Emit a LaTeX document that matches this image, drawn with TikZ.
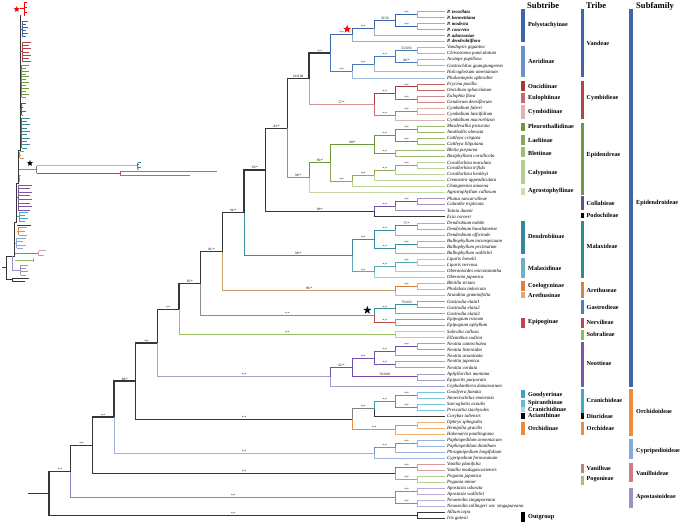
\documentclass[tikz,border=0pt]{standalone}
\usepackage{fontspec}
\setmainfont{Liberation Serif}
\usetikzlibrary{calc,shapes.geometric}
\definecolor{bkc}{HTML}{363636}
\definecolor{pin}{HTML}{3C64A8}\definecolor{pti}{HTML}{98AECE}
\definecolor{ain}{HTML}{4A78B8}\definecolor{ati}{HTML}{A0B8D8}
\definecolor{cst}{HTML}{D89090}\definecolor{onc}{HTML}{A83A3A}\definecolor{oti}{HTML}{C06868}
\definecolor{eul}{HTML}{C05A5A}\definecolor{eti}{HTML}{D08C8C}
\definecolor{cyi}{HTML}{C87070}\definecolor{cyt}{HTML}{DEB0B0}
\definecolor{est}{HTML}{8AA05A}\definecolor{ein}{HTML}{6A9A3A}\definecolor{eti2}{HTML}{9CBA70}
\definecolor{cal}{HTML}{8CAA5C}\definecolor{calt}{HTML}{BCD29C}\definecolor{agr}{HTML}{C4D8A6}
\definecolor{pur}{HTML}{7050A0}\definecolor{purt}{HTML}{A890C8}
\definecolor{tea}{HTML}{3A8C9C}\definecolor{teat}{HTML}{8CBCC8}\definecolor{mlx}{HTML}{5AA8B8}\definecolor{mlxt}{HTML}{A0CCD8}
\definecolor{tan}{HTML}{C8A070}\definecolor{ora}{HTML}{D8803A}\definecolor{orat}{HTML}{E8B078}
\definecolor{gry}{HTML}{8C8C8C}\definecolor{gas}{HTML}{3A8A9C}\definecolor{gast}{HTML}{7AB0C0}
\definecolor{epg}{HTML}{C04848}\definecolor{epgt}{HTML}{D88080}
\definecolor{sob}{HTML}{9CC060}\definecolor{sobt}{HTML}{B8D490}
\definecolor{neo}{HTML}{7050A8}\definecolor{neot}{HTML}{A89CC8}
\definecolor{cra}{HTML}{3AA0C0}\definecolor{crat}{HTML}{80C4DC}
\definecolor{orc}{HTML}{F08C3C}\definecolor{orct}{HTML}{F4B070}
\definecolor{cyp}{HTML}{6F90C8}\definecolor{cypt}{HTML}{9CB4DC}
\definecolor{van}{HTML}{C8646C}\definecolor{vant}{HTML}{DC9AA0}
\definecolor{pog}{HTML}{90BB60}\definecolor{pogt}{HTML}{B0D090}
\definecolor{apo}{HTML}{9080C0}\definecolor{apot}{HTML}{B8ACD8}
% panel colours
\definecolor{sPoly}{HTML}{3D66A8}\definecolor{sAeri}{HTML}{6A92C8}\definecolor{sOnc}{HTML}{A83838}
\definecolor{sEul}{HTML}{C86870}\definecolor{sCym}{HTML}{E0B4B6}\definecolor{sPle}{HTML}{6E963C}
\definecolor{sLae}{HTML}{88AA58}\definecolor{sBle}{HTML}{A0BC78}\definecolor{sCal}{HTML}{B6CC94}
\definecolor{sAgr}{HTML}{CADCB0}\definecolor{sDen}{HTML}{34889A}\definecolor{sMal}{HTML}{70B0C2}
\definecolor{sCoe}{HTML}{D9803A}\definecolor{sAre}{HTML}{E8A468}\definecolor{sEpi}{HTML}{C0464C}
\definecolor{sGoo}{HTML}{3EA4C4}\definecolor{sSpi}{HTML}{68B8D2}\definecolor{sCra}{HTML}{A8D8E4}
\definecolor{sOrc}{HTML}{EF8A3A}
\definecolor{tVan}{HTML}{3D66A8}\definecolor{tCym}{HTML}{B04448}\definecolor{tEpi}{HTML}{6E9A40}
\definecolor{tCol}{HTML}{6A4A9C}\definecolor{tMal}{HTML}{34889A}\definecolor{tAre}{HTML}{D8843C}
\definecolor{tGas}{HTML}{4E7EC2}\definecolor{tNer}{HTML}{C0464C}\definecolor{tSob}{HTML}{8CBC58}
\definecolor{tNeo}{HTML}{7A58A8}\definecolor{tCra}{HTML}{44A8C6}\definecolor{tOrc}{HTML}{EF8A3A}
\definecolor{tVnl}{HTML}{D07880}\definecolor{tPog}{HTML}{9CC670}
\definecolor{fEpi}{HTML}{3D66A8}\definecolor{fOrc}{HTML}{EF8C3C}\definecolor{fCyp}{HTML}{88A8D8}
\definecolor{fVan}{HTML}{D07A84}\definecolor{fApo}{HTML}{A090C8}
\tikzset{
  bb/.style={draw=bkc,line width=1.3pt},
  ib/.style={line width=1pt},
  tb/.style={line width=0.8pt},
  tiplab/.style={anchor=west,inner sep=0pt,font=\fontsize{4.8}{5}\selectfont\itshape},
  bs/.style={anchor=south,inner sep=0.7pt,font=\fontsize{3.4}{3.5}\selectfont},
  panel/.style={anchor=west,inner sep=0pt,font=\fontsize{6.2}{7}\selectfont\bfseries},
  head/.style={anchor=west,inner sep=0pt,font=\fontsize{8.6}{9}\selectfont\bfseries},
  pbar/.style={line width=3.3pt},
  starshape/.style={star,star points=5,star point ratio=2.4,inner sep=0pt,minimum size=#1},
}
\newcommand\E[3]{\draw[#1] (#2) |- (#3);}
\newcommand\BS[3]{\node[bs] (b#1) at ($(#2 |- #1)!0.5!(#1)$) {#3};}
\newcommand\comb[7]{%
  \draw[draw=#1,line width=0.6pt] (#2,{(#4+#5)/2}) -- (#3,{(#4+#5)/2}) (#3,#4) -- (#3,#5);
  \pgfmathtruncatemacro\nn{#7-1}%
  \foreach \k in {0,...,\nn} {\draw[draw=#1,line width=0.45pt] (#3,{#4+\k*(#5-#4)/\nn}) -- ({#6-mod(\k,2)*2.5},{#4+\k*(#5-#4)/\nn});}
}
\begin{document}
\begin{tikzpicture}[x=1pt,y=-1pt]
\useasboundingbox (0,0) rectangle (685,524);
% ---------- tips ----------
\foreach \i in {1,...,85} \coordinate (t\i) at (445,{11.5+(\i-1)*6.04});
\foreach \nm [count=\i] in {\textbf{P. tessellata},\textbf{P. bennettiana},\textbf{P. modesta},\textbf{P. concreta},\textbf{P. adansoniae},\textbf{P. dendrobiiflora},
 Vandopsis gigantea,Cleisostoma paniculatum,Acampe papillosa,Gastrochilus guangtungensis,Holcoglossum amesianum,Phalaenopsis aphrodite,
 Erycina pusilla,Oncidium sphacelatum,Eulophia flava,Geodorum densiflorum,Cymbidium faberi,Cymbidium lancifolium,Cymbidium macrorhizon,
 Masdevallia picturata,Anathallis obovata,Cattleya crispata,Cattleya liliputana,Bletia purpurea,Basiphyllaea corallicola,
 Corallorhiza maculata,Corallorhiza trifida,Corallorhiza bentleyi,Cremastra appendiculata,Changnienia amoena,Agrostophyllum callosum,
 Phaius tancarvilleae,Calanthe triplicata,Tainia dunnii,Eria corneri,
 Dendrobium nobile,Dendrobium huoshanense,Dendrobium officinale,Bulbophyllum inconspicuum,Bulbophyllum pectinatum,Bulbophyllum wallichii,
 Liparis loeselii,Liparis nervosa,Oberonioides microtatantha,Oberonia japonica,
 Bletilla striata,Pholidota imbricata,Arundina graminifolia,Gastrodia elata1,Gastrodia elata2,Gastrodia elata3,
 Epipogium roseum,Epipogium aphyllum,Sobralia callosa,Elleanthus sodiroi,
 Neottia camtschatea,Neottia listeroides,Neottia acuminata,Neottia japonica,Neottia cordata,Aphyllorchis montana,Epipactis purpurata,Cephalanthera damasonium,
 Goodyera fumata,Anoectochilus emeiensis,Sarcoglottis acaulis,Prescottia stachyodes,Corybas taliensis,Ophrys sphegodes,Hemipilia gracilis,Habenaria pantlingiana,
 Paphiopedilum armeniacum,Paphiopedilum dianthum,Phragmipedium longifolium,Cypripedium formosanum,
 Vanilla planifolia,Vanilla madagascariensis,Pogonia japonica,Pogonia minor,
 Apostasia odorata,Apostasia wallichii,Neuwiedia singapureana,Neuwiedia zollingeri var. singapureana,Allium cepa,Iris gatesii}
 \node[tiplab] (L\i) at (447,{11.5+(\i-1)*6.04}) {\nm};
% ---------- internal nodes ----------
\coordinate (p12) at (417.39,14.52);\coordinate (p34) at (417.39,26.60);
\coordinate (p14) at (395.72,20.56);\coordinate (p15) at (374.05,28.11);\coordinate (p16) at (352.38,34.91);
\coordinate (a78) at (417.39,50.76);\coordinate (a910) at (417.39,62.84);\coordinate (a710) at (395.72,56.80);
\coordinate (a711) at (374.05,64.35);\coordinate (a712) at (352.38,71.15);\coordinate (v) at (330.71,53.03);
\coordinate (c1314) at (417.39,87.00);\coordinate (c1516) at (417.39,99.08);\coordinate (c1316) at (395.72,93.04);
\coordinate (c1718) at (417.39,111.16);\coordinate (c1719) at (395.72,115.69);\coordinate (cym) at (374.05,104.37);
\coordinate (A) at (309.04,78.70);
\coordinate (e2021) at (417.39,129.28);\coordinate (e2223) at (417.39,141.36);\coordinate (e2023) at (395.72,135.32);
\coordinate (e2425) at (395.72,153.44);\coordinate (e2025) at (374.05,144.38);
\coordinate (e2627) at (417.39,165.52);\coordinate (e2628) at (395.72,170.05);\coordinate (e2629) at (374.05,175.34);
\coordinate (e2630) at (352.38,181.00);\coordinate (e2030) at (330.71,162.69);\coordinate (epi) at (309.04,177.70);
\coordinate (B) at (287.37,128.20);
\coordinate (k3233) at (417.39,201.76);\coordinate (k3234) at (395.72,206.29);\coordinate (k3235) at (374.05,211.58);
\coordinate (C) at (265.70,169.89);
\coordinate (d3637) at (417.39,225.92);\coordinate (d3638) at (395.72,230.45);\coordinate (d3940) at (417.39,244.04);
\coordinate (d3941) at (395.72,248.57);\coordinate (dend) at (374.05,239.51);
\coordinate (m4243) at (417.39,262.16);\coordinate (m4244) at (395.72,266.69);\coordinate (m4245) at (374.05,271.98);
\coordinate (mal) at (352.38,255.74);\coordinate (D) at (244.03,212.82);
\coordinate (r4647) at (417.39,286.32);\coordinate (r4648) at (395.72,290.85);\coordinate (E) at (222.36,251.83);
\coordinate (g4950) at (417.39,304.44);\coordinate (g4951) at (395.72,308.97);\coordinate (n5253) at (395.72,322.56);
\coordinate (gn) at (374.05,315.77);\coordinate (F) at (200.69,283.80);
\coordinate (s5455) at (395.72,334.64);\coordinate (G) at (179.02,309.22);
\coordinate (o5657) at (417.39,346.72);\coordinate (o5658) at (395.72,351.25);\coordinate (o5960) at (395.72,364.84);
\coordinate (o5660) at (374.05,358.05);\coordinate (o6162) at (417.39,376.92);\coordinate (o5662) at (352.38,367.48);
\coordinate (o5663) at (330.71,376.73);\coordinate (H) at (157.35,342.98);
\coordinate (q6465) at (417.39,395.04);\coordinate (q6667) at (417.39,407.12);\coordinate (q6467) at (395.72,401.08);
\coordinate (q6468) at (374.05,408.63);\coordinate (q6970) at (417.39,425.24);\coordinate (q6971) at (395.72,429.77);
\coordinate (orc) at (352.38,419.20);\coordinate (I) at (135.68,381.09);
\coordinate (y7273) at (417.39,443.36);\coordinate (y7274) at (395.72,447.89);\coordinate (y7275) at (374.05,453.18);
\coordinate (J) at (114.01,417.13);
\coordinate (w7677) at (417.39,467.52);\coordinate (w7879) at (417.39,479.60);\coordinate (w7679) at (395.72,473.56);
\coordinate (K) at (92.34,445.35);
\coordinate (z8081) at (417.39,491.68);\coordinate (z8283) at (417.39,503.76);\coordinate (z8083) at (395.72,497.72);
\coordinate (L) at (70.67,471.53);
\coordinate (og) at (417.39,515.84);
\coordinate (root) at (49.00,493.69);\coordinate (rstub) at (28,493.69);
% ---------- edges ----------
\draw[bb] (rstub) -- (root);
\E{bb}{root}{L}\E{bb}{root}{og}\E{draw=bkc,tb}{og}{t84}\E{draw=bkc,tb}{og}{t85}
\E{bb}{L}{K}\E{draw=apo,ib}{L}{z8083}
\E{draw=apo,ib}{z8083}{z8081}\E{draw=apo,ib}{z8083}{z8283}
\foreach \a/\b in {z8081/t80,z8081/t81,z8283/t82,z8283/t83} {\E{draw=apot,tb}{\a}{\b}}
\E{bb}{K}{J}\E{bb}{K}{w7679}
\E{draw=van,ib}{w7679}{w7677}\E{draw=pog,ib}{w7679}{w7879}
\E{draw=vant,tb}{w7677}{t76}\E{draw=vant,tb}{w7677}{t77}\E{draw=pogt,tb}{w7879}{t78}\E{draw=pogt,tb}{w7879}{t79}
\E{bb}{J}{I}\E{draw=cypt,ib}{J}{y7275}
\E{draw=cyp,ib}{y7275}{y7274}\E{draw=cypt,tb}{y7275}{t75}\E{draw=cyp,ib}{y7274}{y7273}\E{draw=cypt,tb}{y7274}{t74}
\E{draw=cypt,tb}{y7273}{t72}\E{draw=cypt,tb}{y7273}{t73}
\E{bb}{I}{H}\E{bb}{I}{orc}
\E{draw=gray,ib}{orc}{q6468}\E{draw=orc,ib}{orc}{q6971}
\E{draw=cra,ib}{q6468}{q6467}\E{draw=bkc,ib}{q6468}{t68}
\E{draw=cra,ib}{q6467}{q6465}\E{draw=cra,ib}{q6467}{q6667}
\foreach \a/\b in {q6465/t64,q6465/t65,q6667/t66,q6667/t67} {\E{draw=crat,tb}{\a}{\b}}
\E{draw=orc,ib}{q6971}{q6970}\E{draw=orct,tb}{q6971}{t71}\E{draw=orct,tb}{q6970}{t69}\E{draw=orct,tb}{q6970}{t70}
\E{bb}{H}{G}\E{draw=neot,ib}{H}{o5663}
\E{draw=neo,ib}{o5663}{o5662}\E{draw=neot,tb}{o5663}{t63}
\E{draw=neo,ib}{o5662}{o5660}\E{draw=neo,ib}{o5662}{o6162}
\E{draw=neo,ib}{o5660}{o5658}\E{draw=neo,ib}{o5660}{o5960}\E{draw=neo,ib}{o5658}{o5657}
\foreach \a/\b in {o5657/t56,o5657/t57,o5658/t58,o5960/t59,o5960/t60,o6162/t61,o6162/t62} {\E{draw=neot,tb}{\a}{\b}}
\E{bb}{G}{F}\E{draw=sob,ib}{G}{s5455}\E{draw=sobt,tb}{s5455}{t54}\E{draw=sobt,tb}{s5455}{t55}
\E{bb}{F}{E}\E{draw=gry,ib}{F}{gn}
\E{draw=gas,ib}{gn}{g4951}\E{draw=epg,ib}{gn}{n5253}
\E{draw=gas,ib}{g4951}{g4950}\E{draw=gast,tb}{g4951}{t51}\E{draw=gast,tb}{g4950}{t49}\E{draw=gast,tb}{g4950}{t50}
\E{draw=epgt,tb}{n5253}{t52}\E{draw=epgt,tb}{n5253}{t53}
\E{bb}{E}{D}\E{draw=tan,ib}{E}{r4648}
\E{draw=ora,ib}{r4648}{r4647}\E{draw=orat,tb}{r4648}{t48}\E{draw=orat,tb}{r4647}{t46}\E{draw=orat,tb}{r4647}{t47}
\E{bb}{D}{C}\E{draw=tea,ib}{D}{mal}
\E{draw=tea,ib}{mal}{dend}\E{draw=mlx,ib}{mal}{m4245}
\E{draw=tea,ib}{dend}{d3638}\E{draw=tea,ib}{dend}{d3941}\E{draw=tea,ib}{d3638}{d3637}\E{draw=tea,ib}{d3941}{d3940}
\foreach \a/\b in {d3637/t36,d3637/t37,d3638/t38,d3940/t39,d3940/t40,d3941/t41} {\E{draw=teat,tb}{\a}{\b}}
\E{draw=mlx,ib}{m4245}{m4244}\E{draw=mlx,ib}{m4244}{m4243}
\foreach \a/\b in {m4243/t42,m4243/t43,m4244/t44,m4245/t45} {\E{draw=mlxt,tb}{\a}{\b}}
\E{bb}{C}{B}\E{bb}{C}{k3235}
\E{draw=pur,ib}{k3235}{k3234}\E{draw=bkc,ib}{k3235}{t35}\E{draw=pur,ib}{k3234}{k3233}
\E{draw=purt,tb}{k3234}{t34}\E{draw=purt,tb}{k3233}{t32}\E{draw=purt,tb}{k3233}{t33}
\E{bb}{B}{A}\E{draw=est,ib}{B}{epi}
\E{draw=ein,ib}{epi}{e2030}\E{draw=agr,tb}{epi}{t31}
\E{draw=ein,ib}{e2030}{e2025}\E{draw=cal,ib}{e2030}{e2630}
\E{draw=ein,ib}{e2025}{e2023}\E{draw=ein,ib}{e2025}{e2425}\E{draw=ein,ib}{e2023}{e2021}\E{draw=ein,ib}{e2023}{e2223}
\foreach \a/\b in {e2021/t20,e2021/t21,e2223/t22,e2223/t23,e2425/t24,e2425/t25} {\E{draw=eti2,tb}{\a}{\b}}
\E{draw=cal,ib}{e2630}{e2629}\E{draw=cal,ib}{e2629}{e2628}\E{draw=cal,ib}{e2628}{e2627}
\foreach \a/\b in {e2627/t26,e2627/t27,e2628/t28,e2629/t29,e2630/t30} {\E{draw=calt,tb}{\a}{\b}}
\E{bb}{A}{v}\E{draw=cst,ib}{A}{cym}
\E{draw=onc,ib}{cym}{c1316}\E{draw=cyi,ib}{cym}{c1719}
\E{draw=onc,ib}{c1316}{c1314}\E{draw=eul,ib}{c1316}{c1516}
\E{draw=oti,tb}{c1314}{t13}\E{draw=oti,tb}{c1314}{t14}\E{draw=eti,tb}{c1516}{t15}\E{draw=eti,tb}{c1516}{t16}
\E{draw=cyi,ib}{c1719}{c1718}\E{draw=cyt,tb}{c1719}{t19}\E{draw=cyt,tb}{c1718}{t17}\E{draw=cyt,tb}{c1718}{t18}
\E{draw=pin,ib}{v}{p16}\E{draw=ain,ib}{v}{a712}
\E{draw=pin,ib}{p16}{p15}\E{draw=pin,ib}{p15}{p14}\E{draw=pin,ib}{p14}{p12}\E{draw=pin,ib}{p14}{p34}
\foreach \a/\b in {p12/t1,p12/t2,p34/t3,p34/t4,p15/t5,p16/t6} {\E{draw=pti,tb}{\a}{\b}}
\E{draw=ain,ib}{a712}{a711}\E{draw=ain,ib}{a711}{a710}\E{draw=ain,ib}{a710}{a78}\E{draw=ain,ib}{a710}{a910}
\foreach \a/\b in {a78/t7,a78/t8,a910/t9,a910/t10,a711/t11,a712/t12} {\E{draw=ati,tb}{\a}{\b}}
% ---------- support labels ----------
\BS{p12}{p14}{*/*}\BS{p34}{p14}{*/*}\BS{p14}{p15}{53/56}\BS{p15}{p16}{*/*}\BS{p16}{v}{*/*}
\BS{a78}{a710}{55/0.93}\BS{a910}{a710}{86/*}\BS{a710}{a711}{*/*}\BS{a711}{a712}{*/*}\BS{a712}{v}{*/*}
\BS{v}{A}{*/*}\BS{A}{B}{61/0.98}
\BS{c1314}{c1316}{*/*}\BS{c1516}{c1316}{*/*}\BS{c1316}{cym}{*/*}\BS{c1718}{c1719}{*/*}\BS{c1719}{cym}{*/*}\BS{cym}{A}{57/*}
\BS{e2021}{e2023}{*/*}\BS{e2223}{e2023}{*/*}\BS{e2023}{e2025}{*/*}\BS{e2425}{e2025}{*/*}\BS{e2025}{e2030}{90/*}
\BS{e2627}{e2628}{*/*}\BS{e2628}{e2629}{*/*}\BS{e2629}{e2630}{*/*}\BS{e2630}{e2030}{*/*}\BS{e2030}{epi}{96/*}
\BS{epi}{B}{98/*}\BS{B}{C}{83/*}\BS{C}{D}{93/*}
\BS{k3233}{k3234}{*/*}\BS{k3234}{k3235}{*/*}\BS{k3235}{C}{99/*}
\BS{d3637}{d3638}{77/*}\BS{d3638}{dend}{*/*}\BS{d3940}{d3941}{*/*}\BS{d3941}{dend}{*/*}\BS{dend}{mal}{*/*}
\BS{m4243}{m4244}{*/*}\BS{m4244}{m4245}{*/*}\BS{m4245}{mal}{*/*}\BS{mal}{D}{98/*}
\BS{D}{E}{94/*}\BS{r4647}{r4648}{*/*}\BS{r4648}{E}{89/*}\BS{E}{F}{81/*}
\BS{g4950}{g4951}{76/0.92}\BS{g4951}{gn}{*/*}\BS{n5253}{gn}{*/*}\BS{gn}{F}{*/*}
\BS{F}{G}{85/*}\BS{s5455}{G}{*/*}\BS{G}{H}{*/*}
\BS{o5657}{o5658}{*/*}\BS{o5658}{o5660}{*/*}\BS{o5960}{o5660}{*/*}\BS{o5660}{o5662}{*/*}\BS{o6162}{o5662}{78/0.98}
\BS{o5662}{o5663}{82/*}\BS{o5663}{H}{*/*}\BS{H}{I}{*/*}
\BS{q6465}{q6467}{*/*}\BS{q6667}{q6467}{*/*}\BS{q6467}{q6468}{*/*}\BS{q6468}{orc}{*/*}\BS{q6971}{orc}{*/*}
\BS{orc}{I}{*/*}\BS{I}{J}{86/*}
\BS{y7273}{y7274}{*/*}\BS{y7274}{y7275}{*/*}\BS{y7275}{J}{*/*}\BS{J}{K}{*/*}
\BS{w7677}{w7679}{*/*}\BS{w7879}{w7679}{*/*}\BS{w7679}{K}{*/*}\BS{K}{L}{*/*}
\BS{z8081}{z8083}{*/*}\BS{z8283}{z8083}{*/*}\BS{z8083}{L}{*/*}\BS{L}{root}{*/*}\BS{og}{root}{*/*}
% stars on tree
\node[starshape=8.5pt,fill=red] (starR) at (347.2,29.2) {};
\node[starshape=8.5pt,fill=black] (starK) at (367.3,310.2) {};
% ---------- right panel ----------
\node[head] (h1) at (527,6) {Subtribe};
\node[head] (h2) at (586,6) {Tribe};
\node[head] (h3) at (636,6) {Subfamily};
\foreach \c/\ya/\yb/\yl/\tx [count=\j] in {
 sPoly/9.3/41.7/25/Polystachyinae, sAeri/45.7/77.3/61/Aeridinae, sOnc/80.7/90.7/86.5/Oncidiinae,
 sEul/93/103/98.3/Eulophiinae, sCym/105.5/119/112.3/Cymbidiinae, sPle/123/131/126.7/Pleurothallidinae,
 sLae/135/145/140/Laeliinae, sBle/147/157/153/Bletiinae, sCal/160/184.3/173.3/Calypsinae,
 sAgr/188/194.5/191.5/Agrostophyllinae, sDen/220.7/254/236.7/Dendrobiinae, sMal/257.7/277.7/268.3/Malaxidinae,
 sCoe/281/290.7/285.7/Coelogyninae, sAre/292/297.7/295/Arethusinae, sEpi/318/328/322.3/Epipoginae,
 sGoo/390/398/394.7/Goodyerinae, sSpi/400.3/406.5/402.7/Spiranthinae, sCra/407/412/409.2/Cranichidinae,
 black/413/418.5/415.6/Acianthinae, sOrc/421.7/435/428.3/Orchidinae, black/511.7/521.7/516.7/Outgroup}
 {\draw[pbar,draw=\c] (523,\ya) -- (523,\yb); \node[panel] (st\j) at (528,\yl) {\tx};}
\foreach \c/\ya/\yb/\yl/\tx [count=\j] in {
 tVan/9.3/77.3/43/Vandeae, tCym/80.7/119/98.3/Cymbidieae, tEpi/123/194.5/155/Epidendreae,
 tCol/196/210/203/Collabieae, black/212.5/218/215.8/Podochileae, tMal/220.7/278/246.7/Malaxideae,
 tAre/281.7/298.3/290/Arethuseae, tGas/300/314.3/307/Gastrodieae, tNer/318/328/322.3/Nervilieae,
 tSob/330/340/334.7/Sobralieae, tNeo/342/387/363/Neottieae, tCra/389/412.7/400.7/Cranichideae,
 black/413/419/416.6/Diurideae, tOrc/421.7/435/428.5/Orchideae, tVnl/464/473/468/Vanilleae, tPog/475.7/485/479/Pogonieae}
 {\draw[pbar,draw=\c] (582.5,\ya) -- (582.5,\yb); \node[panel] (tr\j) at (586.5,\yl) {\tx};}
\foreach \c/\ya/\yb/\yl/\tx [count=\j] in {
 fEpi/9.3/387/203/Epidendroideae, fOrc/389/436/411.7/Orchidoideae, fCyp/438.7/459.3/451/Cypripedioideae,
 fVan/463/481.7/473/Vanilloideae, fApo/487.7/508/497/Apostasioideae}
 {\draw[pbar,draw=\c] (631,\ya) -- (631,\yb); \node[panel] (sf\j) at (636,\yl) {\tx};}
% ---------- left inset (phylogram) ----------
\draw[draw=bkc,line width=0.9pt] (20,15) -- (20,150) -- (18.5,150) -- (18.5,183) -- (16.5,183) -- (16.5,222) -- (14.5,222) -- (14.5,256);
\draw[draw=bkc,line width=0.8pt] (1.7,267.7) -- (6,267.7) (6,256) -- (6,279.5) (6,256) -- (14.5,256) (6,279.5) -- (12.7,279.5);
\comb{red}{20}{24}{2}{15}{27}{6}
\comb{pin}{20}{22}{21.5}{36.5}{28}{6}
\comb{tCym}{20}{22}{42}{61.5}{31}{7}
\comb{tEpi}{20}{21.5}{65}{97}{28.5}{12}
\comb{tCol}{20}{21.5}{103}{115}{25.5}{4}
\comb{tMal}{20}{21.5}{118}{148}{29.5}{10}
\comb{tAre}{18.5}{19.5}{151.5}{158.3}{23.5}{3}
\draw[draw=gry,line width=0.9pt] (18.5,169) -- (36.7,169);
\draw[draw=gray,line width=0.6pt] (36.7,165.7) -- (36.7,173.3);
\draw[draw=ati,line width=0.8pt] (36.7,165.7) -- (136.7,165.7);
\comb{gas}{136.7}{137.5}{162.5}{169}{140.5}{4}
\draw[draw=epg,line width=0.8pt] (36.7,173.3) -- (120,173.3) (120,171) -- (120,175);
\draw[draw=van,line width=0.8pt] (120,171) -- (216.7,171) (120,175) -- (190,175);
\node[starshape=6.5pt,fill=black] (istarK) at (30,163.3) {};
\node[starshape=6.5pt,fill=red] (istarR) at (16.7,9.3) {};
\comb{tSob}{18.5}{19}{175.5}{181.5}{21}{2}
\comb{tNeo}{16.5}{18}{185}{210}{32}{8}
\comb{tCra}{16.5}{19}{212}{221}{27.5}{4}
\draw[draw=bkc,line width=0.8pt] (16.5,225) -- (31,225);
\comb{tOrc}{16.5}{18.5}{227}{235}{27}{3}
\comb{fCyp}{14.5}{16.5}{238}{248.3}{25.5}{4}
\draw[draw=van,line width=0.7pt] (14.5,253) -- (38,253);
\comb{vant}{38}{38.5}{250.5}{255.5}{46}{2}
\draw[draw=pog,line width=0.7pt] (14.5,260) -- (33,260) (33,258) -- (33,262);
\draw[draw=fApo,line width=0.7pt] (12.7,256) -- (12.7,270) -- (20,270);
\comb{fApo}{20}{20.5}{265}{275}{28}{4}
\draw[draw=bkc,line width=0.8pt] (12.7,278.3) -- (29.3,278.3) (12.7,278.3) -- (12.7,281.7) -- (25,281.7);
\end{tikzpicture}
\end{document}
